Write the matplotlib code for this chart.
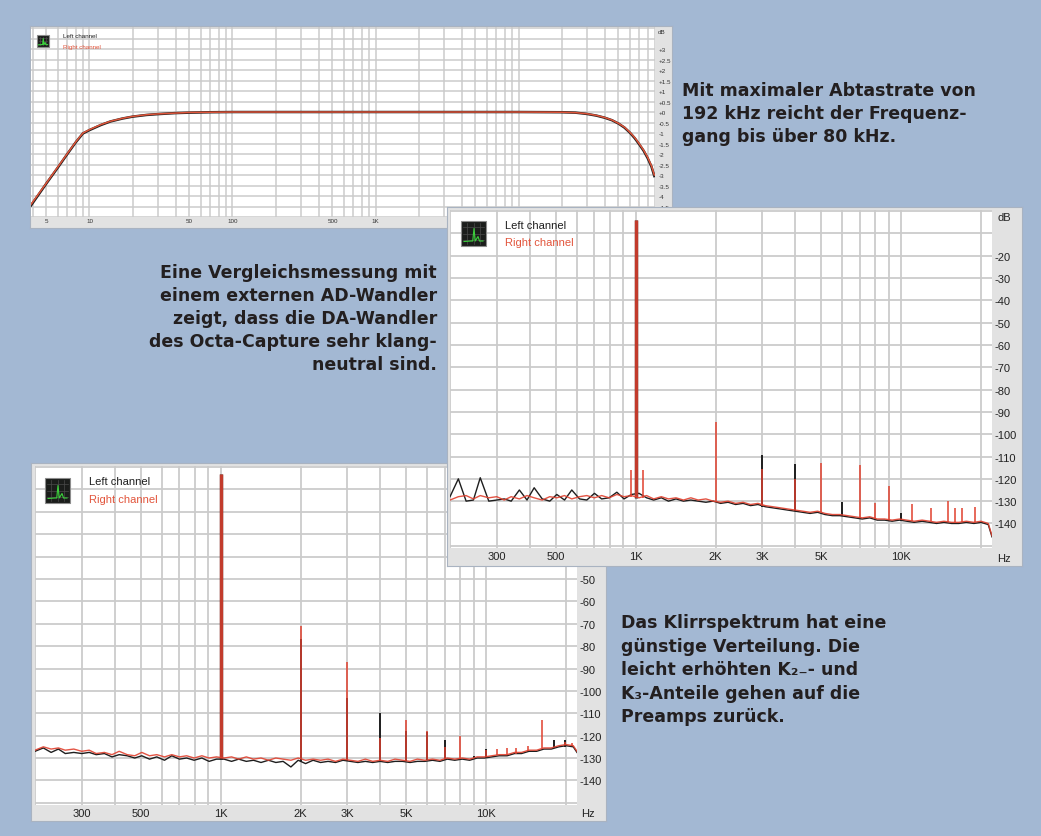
import matplotlib
matplotlib.use("Agg")
import matplotlib.pyplot as plt
from matplotlib.patches import Rectangle
from matplotlib.ticker import NullFormatter

# ------------------------------------------------------------------ data
# top chart: frequency response (Hz, dB)
FR_HZ = [3.9, 5, 6, 7, 8, 9, 10, 12, 14, 17,
         20, 25, 30, 40, 50, 70, 100, 1000, 10000, 20000,
         25000, 30000, 35000, 40000, 45000, 50000, 55000, 60000, 65000, 70000,
         75000, 80000, 85000, 89000]
FR_LEFT_DB = [-4.45, -3.4, -2.65, -2.0, -1.45, -1.02, -0.86, -0.62, -0.45, -0.31,
              -0.22, -0.14, -0.10, -0.05, -0.03, -0.01, 0.0, 0.0, 0.0, -0.01,
              -0.03, -0.09, -0.17, -0.27, -0.39, -0.55, -0.74, -0.98, -1.25, -1.55,
              -1.85, -2.2, -2.6, -3.05]
FR_RIGHT_DB = [-4.4, -3.38, -2.62, -1.98, -1.43, -1.0, -0.84, -0.6, -0.44, -0.3,
               -0.21, -0.13, -0.09, -0.05, -0.02, -0.01, 0.0, 0.0, 0.0, -0.01,
               -0.03, -0.08, -0.16, -0.26, -0.38, -0.54, -0.72, -0.96, -1.22, -1.52,
               -1.82, -2.16, -2.56, -3.0]
FR_X_TICKS = [5, 10, 50, 100, 500, 1000]
FR_X_LABELS = ['5', '10', '50', '100', '500', '1K']
FR_Y_TICKS = [3, 2.5, 2, 1.5, 1, 0.5, 0, -0.5, -1, -1.5, -2, -2.5, -3, -3.5, -4, -4.5]
FR_Y_LABELS = ['+3', '+2.5', '+2', '+1.5', '+1', '+0.5', '+0', '-0.5', '-1', '-1.5',
               '-2', '-2.5', '-3', '-3.5', '-4', '-4.5']

# spectra: noise floor sample frequencies (shared)
FLOOR_HZ = [200, 215, 230, 245, 260, 280, 300, 320, 340, 365,
            390, 415, 445, 475, 505, 540, 575, 615, 655, 700,
            745, 795, 850, 905, 965, 1030, 1100, 1170, 1250, 1330,
            1420, 1515, 1615, 1720, 1840, 1960, 2090, 2230, 2380, 2540,
            2710, 2890, 3080, 3290, 3510, 3740, 3990, 4260, 4540, 4850,
            5170, 5510, 5880, 6280, 6700, 7140, 7620, 8130, 8670, 9250,
            9870, 10500, 11200, 12000, 12800, 13600, 14500, 15500, 16500, 17600,
            18800, 20000, 21300, 22000]

# middle chart (comparison with external AD converter)
MID_FLOOR_RIGHT = [-129.5, -128, -127.5, -129, -127.5, -128.5, -128, -129.5, -128, -129,
                   -127.5, -128.5, -129.5, -128, -128.5, -127.5, -129, -128, -127.5, -128.5,
                   -127.5, -128.5, -127, -128, -127.5, -128.5, -127.5, -129, -128, -129,
                   -128.5, -129.5, -128.5, -129.5, -129, -130, -130.5, -130, -131, -130.5,
                   -131.5, -131, -132, -132.5, -133, -133.5, -134, -134.5, -135, -134.5,
                   -135.5, -136, -136, -136.5, -137, -137.5, -137, -138, -138, -138.5,
                   -138, -138.5, -139, -138.5, -139, -139.5, -139, -139.5, -139.5, -139,
                   -139.5, -139, -140, -145.5]
MID_FLOOR_LEFT = [-128, -120, -130, -129.5, -119.5, -130, -129.5, -129, -130, -125,
                  -129.5, -124, -129, -130, -127, -129.5, -125, -129, -129.5, -126.5,
                  -129, -128.5, -126, -129, -127, -126.5, -128.5, -129.5, -128.5, -130,
                  -129, -130, -129.5, -130, -130.5, -130, -131, -130.5, -131.5, -131,
                  -132, -131.5, -132.5, -133, -133.5, -134, -134.5, -135, -135.5, -135,
                  -136, -136.5, -136.5, -137, -137.5, -138, -137.5, -138.5, -138.5, -139,
                  -138.5, -139, -139.5, -139, -139.5, -140, -139.5, -140, -140, -139.5,
                  -140, -139.5, -140.5, -146]
MID_PEAK_RIGHT_HZ = [965, 1000, 1070, 2000, 3000, 4000, 5000, 7000, 8000, 9000,
                     11000, 13000, 15000, 16000, 17000, 19000]
MID_PEAK_RIGHT_TOP = [-116, -4, -116, -94.5, -115.5, -120, -113, -114, -131, -123,
                      -131.5, -133, -130, -133, -133, -132.5]
MID_PEAK_RIGHT_BASE = [-128, -128, -128.5, -130, -132, -134, -135, -137.5, -138, -138.5,
                       -139, -139, -139.5, -139.5, -139.5, -139.5]
MID_PEAK_LEFT_HZ = [1000, 3000, 4000, 6000, 10000]
MID_PEAK_LEFT_TOP = [-4, -109.5, -113.5, -130.5, -135.5]
MID_PEAK_LEFT_BASE = [-128.5, -132.5, -134.5, -136.5, -139]

# bottom chart (distortion spectrum)
BOT_FLOOR_RIGHT = [-126.5, -125, -126, -125.5, -126.5, -126, -127, -126.5, -128, -127.5,
                   -128.5, -127, -128.5, -129, -127.5, -129, -128.5, -129.5, -128.5, -129.5,
                   -129, -130, -129, -130, -129.5, -130, -129.5, -130.5, -129.5, -130.5,
                   -130, -131, -130, -130.5, -131, -130, -131, -130.5, -131, -130.5,
                   -131.5, -130.5, -131, -131.5, -130.5, -131.5, -131, -131.5, -130.5, -131,
                   -131.5, -130.5, -131, -130.5, -131, -130, -130.5, -130, -130.5, -129.5,
                   -129.5, -129, -128.5, -128.5, -127.5, -127.5, -126.5, -126.5, -125.5, -125.5,
                   -124.5, -124, -124.5, -127]
BOT_FLOOR_LEFT = [-127, -125.5, -127.5, -126, -128, -127.5, -128, -127.5, -128.5, -128,
                  -129.5, -128.5, -129, -130, -129, -130.5, -129.5, -131, -129, -130.5,
                  -130, -131, -130, -131.5, -130.5, -130.5, -131.5, -130.5, -131.5, -131,
                  -132, -131, -132, -131.5, -134, -131, -132.5, -131, -132, -131.5,
                  -132, -131, -131.5, -132, -131.5, -132, -131.5, -132, -131.5, -131.5,
                  -132, -131.5, -131.5, -131, -131.5, -130.5, -131, -130.5, -131, -130,
                  -130, -129.5, -129, -129, -128, -128, -127, -127, -126, -126,
                  -125, -124.5, -125, -127.5]
BOT_PEAK_RIGHT_HZ = [1000, 2000, 3000, 4000, 5000, 6000, 7000, 8000, 10000, 11000,
                     12000, 13000, 14400, 16300, 19800, 21000]
BOT_PEAK_RIGHT_TOP = [-3, -71, -87, -121, -113, -118, -125, -120, -126.5, -126,
                      -125.5, -125.5, -124.5, -113, -123, -123.5]
BOT_PEAK_RIGHT_BASE = [-130, -130.5, -131, -131, -131, -130.5, -130.5, -130.5, -129, -128.5,
                       -128.5, -128, -127, -125.5, -124, -124.5]
BOT_PEAK_LEFT_HZ = [1000, 2000, 3000, 4000, 5000, 6000, 7000, 9000, 10000, 18000, 19800]
BOT_PEAK_LEFT_TOP = [-3, -77, -103, -110, -118, -118.5, -122, -129, -126, -122, -122]
BOT_PEAK_LEFT_BASE = [-130.5, -132, -131.5, -131.5, -131.5, -131, -131, -130, -130, -125.5, -125]

SPEC_X_TICKS = [300, 500, 1000, 2000, 3000, 5000, 10000]
SPEC_X_LABELS = ['300', '500', '1K', '2K', '3K', '5K', '10K']
SPEC_Y_TICKS = [-20, -30, -40, -50, -60, -70, -80, -90, -100, -110, -120, -130, -140]
SPEC_Y_LABELS = ['-20', '-30', '-40', '-50', '-60', '-70', '-80', '-90', '-100',
                 '-110', '-120', '-130', '-140']

LEGEND = ['Left channel', 'Right channel']

CAPTION_TOP = ["Mit maximaler Abtastrate von", "192 kHz reicht der Frequenz-",
               "gang bis über 80 kHz."]
CAPTION_MID = ["Eine Vergleichsmessung mit", "einem externen AD-Wandler",
               "zeigt, dass die DA-Wandler", "des Octa-Capture sehr klang-",
               "neutral sind."]
CAPTION_BOT = ["Das Klirrspektrum hat eine", "günstige Verteilung. Die",
               "leicht erhöhten K₂₋- und", "K₃-Anteile gehen auf die",
               "Preamps zurück."]

# ------------------------------------------------------------------ style
W, H = 1041, 837
BG = '#a3b8d3'
STRIP = '#e2e2e2'
GRID = '#cbcbcb'
BLACK = '#1e1e1e'
RED = '#e0412f'
TXT = '#231f20'
TICKFONT = ['Liberation Sans', 'DejaVu Sans']
CAPFONT = ['DejaVu Sans']

fig = plt.figure(figsize=(W / 100, H / 100), dpi=100)
fig.patch.set_facecolor(BG)


def fbox(x0, y0, x1, y1):
    return [x0 / W, 1 - y1 / H, (x1 - x0) / W, (y1 - y0) / H]


def fpt(x, y):
    return (x / W, 1 - y / H)


def make_panel(frame, plot, z):
    outer = fig.add_axes(fbox(*frame), zorder=z)
    outer.set_facecolor(STRIP)
    outer.set_xticks([])
    outer.set_yticks([])
    for s in outer.spines.values():
        s.set_color('#a9b3c1')
        s.set_linewidth(0.8)
    ax = fig.add_axes(fbox(*plot), zorder=z + 0.5)
    ax.set_facecolor('white')
    for s in ax.spines.values():
        s.set_visible(False)
    ax.set_axisbelow(True)
    return outer, ax


def icon(ax, x0, y0, size):
    ax.add_patch(Rectangle(fpt(x0, y0 + size), size / W, size / H,
                           transform=fig.transFigure, facecolor='#1b1d1b',
                           edgecolor='#8c8c8c', lw=0.8, clip_on=False, zorder=6))
    for f in (0.25, 0.5, 0.75):
        ax.plot([fpt(x0 + 2, 0)[0], fpt(x0 + size - 2, 0)[0]],
                [fpt(0, y0 + size * f)[1]] * 2, transform=fig.transFigure,
                color='#4a4a4a', lw=0.5, clip_on=False, zorder=7)
        ax.plot([fpt(x0 + size * f, 0)[0]] * 2,
                [fpt(0, y0 + 2)[1], fpt(0, y0 + size - 2)[1]],
                transform=fig.transFigure, color='#4a4a4a', lw=0.5,
                clip_on=False, zorder=7)
    rx = [0.12, 0.4, 0.47, 0.52, 0.57, 0.68, 0.74, 0.8, 0.88]
    ry = [0.82, 0.8, 0.8, 0.3, 0.8, 0.62, 0.8, 0.8, 0.8]
    ax.plot([fpt(x0 + size * a, 0)[0] for a in rx],
            [fpt(0, y0 + size * b)[1] for b in ry],
            transform=fig.transFigure, color='#3bd13b', lw=0.8,
            clip_on=False, zorder=8)


def legend_text(ax, x, y1, y2, fs):
    ax.text(*fpt(x, y1), LEGEND[0], transform=fig.transFigure, fontsize=fs,
            family=TICKFONT, color=BLACK, va='center', ha='left', clip_on=False)
    ax.text(*fpt(x, y2), LEGEND[1], transform=fig.transFigure, fontsize=fs,
            family=TICKFONT, color='#e2553c', va='center', ha='left', clip_on=False)


# ------------------------------------------------------------------ top panel
outer1, ax1 = make_panel((30, 27, 672, 229), (31, 28, 655, 218), 1)
ax1.set_xscale('log')
ax1.set_xlim(3.9, 90000)
ax1.set_ylim(-5, 4.05)
fr_grid = [m * 10 ** e for e in range(0, 5) for m in range(1, 10) if 4 <= m * 10 ** e <= 90000]
ax1.set_xticks(fr_grid, minor=True)
ax1.xaxis.set_minor_formatter(NullFormatter())
ax1.set_xticks(FR_X_TICKS, FR_X_LABELS)
ax1.set_yticks([v * 0.5 for v in range(-10, 9)], minor=True)
ax1.set_yticks(FR_Y_TICKS, FR_Y_LABELS)
ax1.yaxis.tick_right()
ax1.tick_params(which='both', length=0)
ax1.tick_params(axis='x', pad=1, labelsize=4.5, labelcolor='#333')
ax1.tick_params(axis='y', pad=2.5, labelsize=4.5, labelcolor='#333')
for lab in ax1.get_xticklabels() + ax1.get_yticklabels():
    lab.set_family(TICKFONT)
ax1.grid(which='both', color=GRID, lw=1.1)
ax1.plot(FR_HZ, FR_LEFT_DB, color=BLACK, lw=1.8, zorder=3)
ax1.plot(FR_HZ, FR_RIGHT_DB, color='#e0553a', lw=1.1, zorder=4)
ax1.text(*fpt(658, 32), 'dB', transform=fig.transFigure, fontsize=4.5,
         family=TICKFONT, color='#333', va='center', ha='left', clip_on=False)
icon(ax1, 37, 36, 12)
legend_text(ax1, 63, 37, 47.5, 4.5)


# ------------------------------------------------------------------ spectra
spec_grid = [m * 10 ** e for e in (2, 3) for m in range(1, 10) if m * 10 ** e >= 200] + [10000, 20000]


def spectrum(frame, plot, z, fl, fr, pl, pr, hz_xy, db_xy, icon_xy, leg):
    outer, ax = make_panel(frame, plot, z)
    ax.set_xscale('log')
    ax.set_xlim(200, 22000)
    ax.set_ylim(-151, 0.5)
    ax.set_xticks(spec_grid, minor=True)
    ax.xaxis.set_minor_formatter(NullFormatter())
    ax.set_xticks(SPEC_X_TICKS, SPEC_X_LABELS)
    ax.set_yticks(list(range(-150, 1, 10)), minor=True)
    ax.set_yticks(SPEC_Y_TICKS, SPEC_Y_LABELS)
    ax.yaxis.tick_right()
    ax.tick_params(which='both', length=0)
    ax.tick_params(axis='x', pad=2.5, labelsize=8, labelcolor='#222')
    ax.tick_params(axis='y', pad=2, labelsize=8, labelcolor='#222')
    for lab in ax.get_xticklabels() + ax.get_yticklabels():
        lab.set_family(TICKFONT)
    ax.grid(which='both', color=GRID, lw=1.3)
    # left channel (black) under right channel (red)
    ax.plot(FLOOR_HZ, fl, color=BLACK, lw=1.0, zorder=3)
    ax.vlines(pl[0], pl[2], pl[1], color=BLACK,
              lw=[2.4 if t > -20 else 1.4 for t in pl[1]], zorder=3)
    ax.plot(FLOOR_HZ, fr, color=RED, lw=1.0, alpha=0.9, zorder=4)
    ax.vlines(pr[0], pr[2], pr[1], color=RED, alpha=0.85,
              lw=[2.4 if t > -20 else 1.3 for t in pr[1]], zorder=4)
    ax.text(*fpt(*hz_xy), 'Hz', transform=fig.transFigure, fontsize=8,
            family=TICKFONT, color='#222', va='center', ha='left', clip_on=False)
    if db_xy is not None:
        ax.text(*fpt(*db_xy), 'dB', transform=fig.transFigure, fontsize=8,
                family=TICKFONT, color='#222', va='center', ha='left', clip_on=False)
    icon(ax, icon_xy[0], icon_xy[1], 25)
    legend_text(ax, *leg, 8)
    return ax


# bottom panel (drawn below the middle one)
spectrum((31, 464, 606, 822), (35, 467, 577, 806), 3,
         BOT_FLOOR_LEFT, BOT_FLOOR_RIGHT,
         (BOT_PEAK_LEFT_HZ, BOT_PEAK_LEFT_TOP, BOT_PEAK_LEFT_BASE),
         (BOT_PEAK_RIGHT_HZ, BOT_PEAK_RIGHT_TOP, BOT_PEAK_RIGHT_BASE),
         (581, 814), None, (45, 479), (89, 482, 500))

# middle panel
spectrum((447, 208, 1022, 567), (450, 211, 992, 549), 5,
         MID_FLOOR_LEFT, MID_FLOOR_RIGHT,
         (MID_PEAK_LEFT_HZ, MID_PEAK_LEFT_TOP, MID_PEAK_LEFT_BASE),
         (MID_PEAK_RIGHT_HZ, MID_PEAK_RIGHT_TOP, MID_PEAK_RIGHT_BASE),
         (997, 559), (997, 218), (461, 222), (505, 226, 243.5))

# ------------------------------------------------------------------ captions
for i, line in enumerate(CAPTION_TOP):
    fig.text(*fpt(682, 96 + 22.8 * i), line, family=CAPFONT, fontweight='bold',
             fontsize=12.5, color=TXT, ha='left', va='baseline', zorder=20)
for i, line in enumerate(CAPTION_MID):
    fig.text(*fpt(437, 278 + 23.1 * i), line, family=CAPFONT, fontweight='bold',
             fontsize=12.5, color=TXT, ha='right', va='baseline', zorder=20)
for i, line in enumerate(CAPTION_BOT):
    fig.text(*fpt(621, 628 + 23.6 * i), line, family=CAPFONT, fontweight='bold',
             fontsize=12.5, color=TXT, ha='left', va='baseline', zorder=20)

fig.savefig('out.png', dpi=100, facecolor=BG)
